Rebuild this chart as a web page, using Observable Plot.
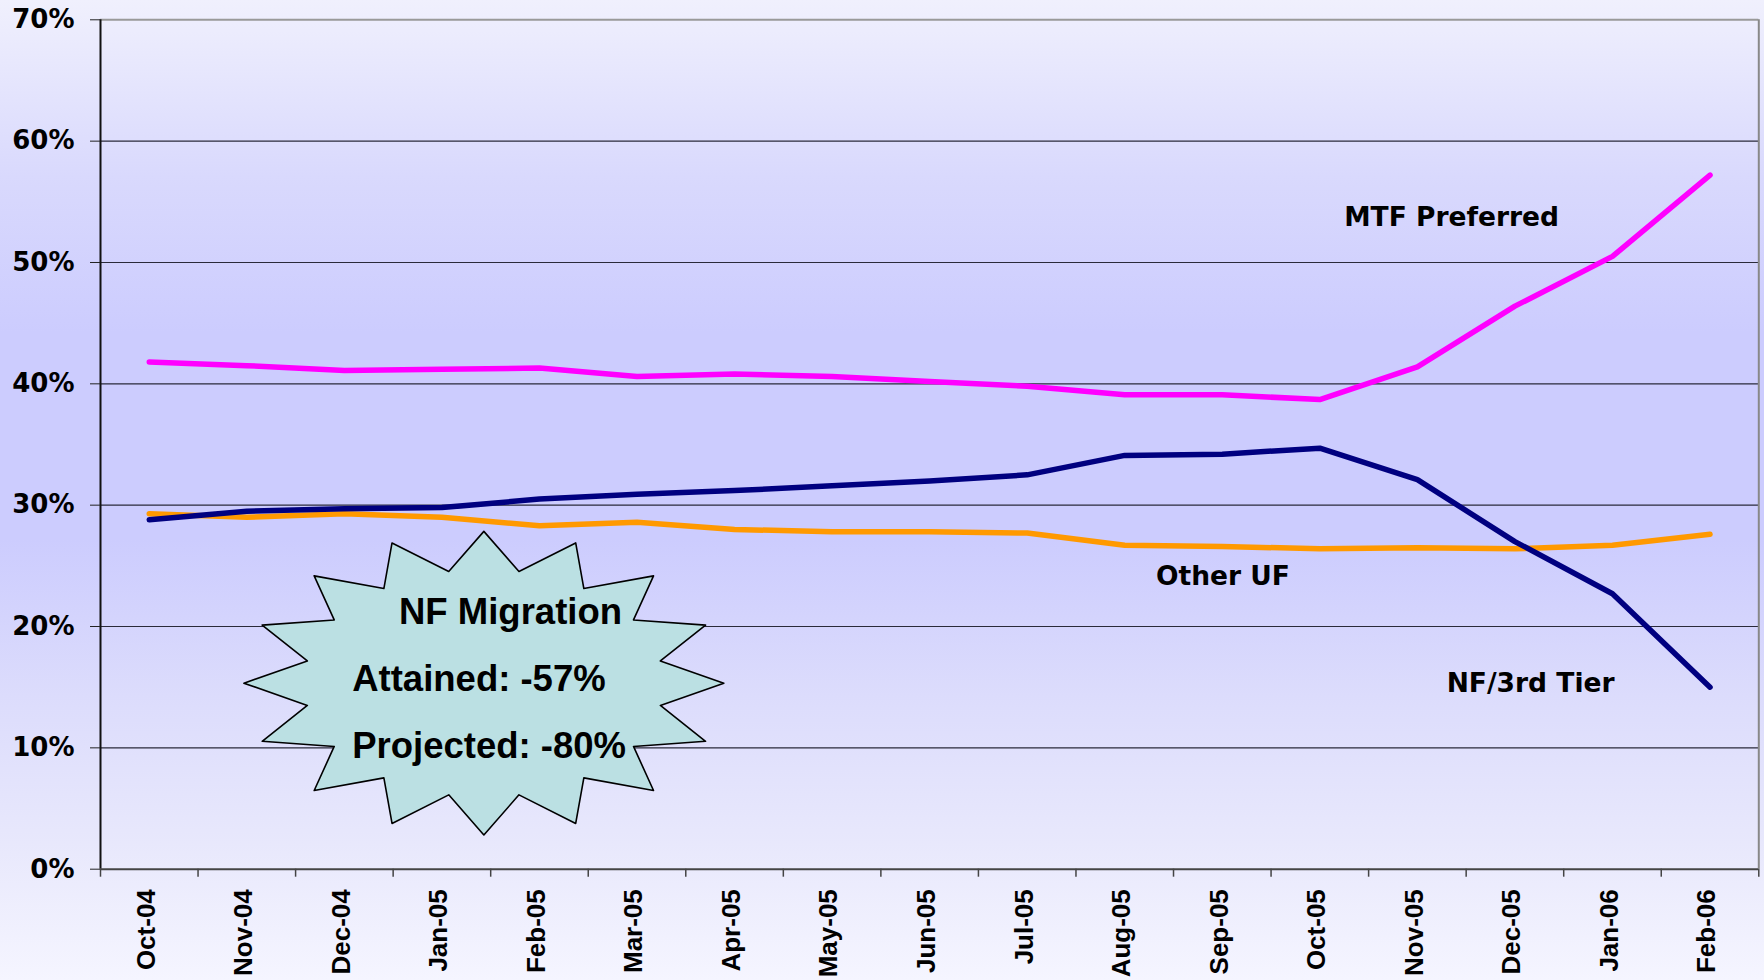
<!DOCTYPE html>
<html>
<head>
<meta charset="utf-8">
<script src="https://cdn.jsdelivr.net/npm/d3@7"></script>
<script src="https://cdn.jsdelivr.net/npm/@observablehq/plot@0.6"></script>
<style>
  html, body { margin: 0; padding: 0; overflow: hidden; }
  body {
    width: 1764px; height: 980px;
    background: linear-gradient(to bottom, #F0F0FD 0%, #D9D9FD 18%, #CCCCFE 34%, #CCCCFE 55%, #DCDCFC 71%, #E8E8FC 86%, #F5F5FF 100%);
  }
  #chart svg { display: block; }
</style>
</head>
<body>
<div id="chart"></div>
<script>
// ---- data ----
const months = ["Oct-04","Nov-04","Dec-04","Jan-05","Feb-05","Mar-05","Apr-05","May-05","Jun-05","Jul-05","Aug-05","Sep-05","Oct-05","Nov-05","Dec-05","Jan-06","Feb-06"];
const mtfPreferred = [0.418, 0.415, 0.411, 0.412, 0.413, 0.406, 0.408, 0.406, 0.402, 0.398, 0.391, 0.391, 0.387, 0.414, 0.464, 0.505, 0.572];
const otherUF      = [0.293, 0.290, 0.293, 0.290, 0.283, 0.286, 0.280, 0.278, 0.278, 0.277, 0.267, 0.266, 0.264, 0.265, 0.264, 0.267, 0.276];
const nf3rdTier    = [0.288, 0.295, 0.297, 0.298, 0.305, 0.309, 0.312, 0.316, 0.320, 0.325, 0.341, 0.342, 0.347, 0.321, 0.270, 0.227, 0.150];
const seriesNames  = ["MTF Preferred", "Other UF", "NF/3rd Tier"];
const seriesColors = ["#FF00FF", "#FF9900", "#000080"];
const yTicks = [0, 0.1, 0.2, 0.3, 0.4, 0.5, 0.6, 0.7];

// annotation labels (data units: x = month index, y = share)
const seriesLabels = [
  {name: "MTF Preferred", x: 12.25, y: 0.530},
  {name: "Other UF",      x: 10.32, y: 0.234},
  {name: "NF/3rd Tier",   x: 13.30, y: 0.146}
];
const burstText = [
  {text: "NF Migration",    x: 2.56, y: 0.202},
  {text: "Attained: -57%",  x: 2.08, y: 0.1465},
  {text: "Projected: -80%", x: 2.08, y: 0.0913}
];
const burstShape = {cx: 3.43, cy: 0.1533, rx: 2.46, ry: 0.1251, innerRatio: 0.75, spikes: 16};

// ---- derived tables ----
const seriesValues = [mtfPreferred, otherUF, nf3rdTier];
const rows = seriesNames.flatMap((s, k) => months.map((m, i) => ({i, month: m, series: s, value: seriesValues[k][i]})));
const burstPts = d3.range(burstShape.spikes * 2).map(k => {
  const a = k * Math.PI / burstShape.spikes;
  const r = k % 2 === 0 ? 1 : burstShape.innerRatio;
  return {x: burstShape.cx + burstShape.rx * r * Math.sin(a), y: burstShape.cy + burstShape.ry * r * Math.cos(a)};
});
const boundaries = d3.range(months.length + 1).map(k => k - 0.5);

const chart = Plot.plot({
  width: 1764,
  height: 980,
  marginLeft: 100,
  marginRight: 5.7,
  marginTop: 19.3,
  marginBottom: 111.3,
  style: {background: "transparent", overflow: "visible"},
  x: {type: "linear", domain: [-0.5, months.length - 0.5]},
  y: {domain: [0, 0.7]},
  color: {domain: seriesNames, range: seriesColors},
  marks: [
    Plot.ruleY(yTicks.filter(d => d > 0 && d < 0.7), {stroke: "#2a2a3a", strokeWidth: 1.2}),
    Plot.ruleY([0.7], {stroke: "#999", strokeWidth: 2}),
    Plot.ruleX([months.length - 0.5], {stroke: "#888", strokeWidth: 2}),
    Plot.line(burstPts, {x: "x", y: "y", curve: "linear-closed", fill: "#BBE0E3", stroke: "black", strokeWidth: 1.6}),
    Plot.line(rows, {x: "i", y: "value", z: "series", stroke: "series", strokeWidth: 5.5, strokeLinecap: "round", strokeLinejoin: "round"}),
    Plot.text(seriesLabels, {x: "x", y: "y", text: "name", textAnchor: "start", lineAnchor: "bottom",
      fontFamily: "DejaVu Sans", fontWeight: "bold", fontSize: 26.5, fill: "black"}),
    Plot.text(burstText, {x: "x", y: "y", text: "text", textAnchor: "start", lineAnchor: "bottom",
      fontFamily: "Liberation Sans", fontWeight: "bold", fontSize: 36.5, fill: "black"}),
    Plot.ruleX([-0.5], {stroke: "#111", strokeWidth: 2}),
    Plot.ruleY([0], {stroke: "#444", strokeWidth: 2}),
    Plot.axisX(boundaries, {tickSize: 8, tickFormat: () => "", stroke: "#444", strokeWidth: 1.5}),
    Plot.text(months, {x: (d, i) => i, y: () => 0, text: d => d, rotate: -90, textAnchor: "end", dy: 20, dx: -3,
      fontFamily: "Liberation Sans", fontWeight: "bold", fontSize: 26, fill: "black"}),
    Plot.axisY(yTicks, {tickSize: 10, tickPadding: 16, tickFormat: d => Math.round(d * 100) + "%",
      fontFamily: "DejaVu Sans", fontWeight: "bold", fontSize: 26, stroke: "#222", fill: "black"})
  ]
});
document.getElementById("chart").appendChild(chart);
</script>
</body>
</html>
